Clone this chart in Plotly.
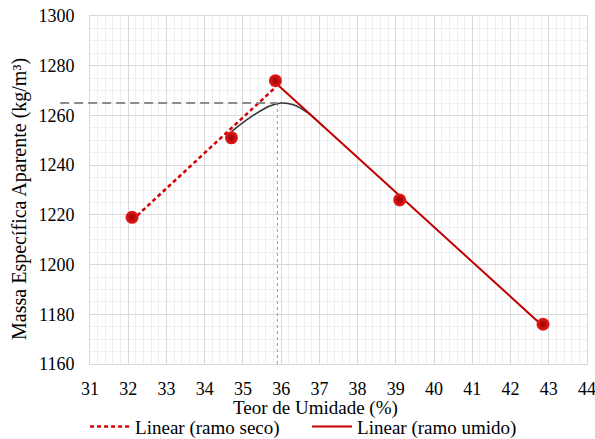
import numpy as np
import plotly.graph_objects as go

# Data
umidade = [32.1, 34.7, 35.85, 39.1, 42.85]
massa = [1219, 1251, 1274, 1226, 1176]
seco_idx = [0, 1, 2]
umido_idx = [2, 3, 4]

curva_x = [34.7, 35.2, 35.7, 36.0, 36.3, 36.7, 37.1]
curva_y = [1253.5, 1259.3, 1263.8, 1265.0, 1264.4, 1261.0, 1255.5]

w_otima = 35.9
gamma_max = 1265

x_range = [31, 44]
y_range = [1160, 1300]
x_ticks = list(range(31, 45))
y_ticks = list(range(1160, 1301, 20))

x_title = "Teor de Umidade (%)"
y_title = "Massa Específica Aparente (kg/m³)"

FONT = "Times New Roman, Liberation Serif, serif"

xs = np.array([umidade[i] for i in seco_idx])
ys = np.array([massa[i] for i in seco_idx])
p_seco = np.polyfit(xs, ys, 1)
xu = np.array([umidade[i] for i in umido_idx])
yu = np.array([massa[i] for i in umido_idx])
p_umido = np.polyfit(xu, yu, 1)

fig = go.Figure()

# vertical thin dotted line at optimum moisture
fig.add_trace(go.Scatter(x=[w_otima, w_otima], y=[y_range[0], gamma_max], mode="lines",
                         line=dict(color="#9a9a9a", width=1, dash="dot"),
                         showlegend=False, hoverinfo="skip"))

# compaction curve (black)
fig.add_trace(go.Scatter(x=curva_x, y=curva_y, mode="lines", line_shape="spline",
                         line=dict(color="#333333", width=1.5),
                         showlegend=False, hoverinfo="skip"))

# trend lines
sx = [xs.min(), xs.max()]
fig.add_trace(go.Scatter(x=sx, y=list(np.polyval(p_seco, sx)), mode="lines",
                         line=dict(color="#d40000", width=2.5, dash="4px,3px"),
                         name="Linear (ramo seco)"))
ux = [xu.min(), xu.max()]
fig.add_trace(go.Scatter(x=ux, y=list(np.polyval(p_umido, ux)), mode="lines",
                         line=dict(color="#c00000", width=2),
                         name="Linear (ramo umido)"))

# data points
fig.add_trace(go.Scatter(x=umidade, y=massa, mode="markers",
                         marker=dict(size=13, color="#e81c1c",
                                     gradient=dict(type="radial", color="#9a0000"),
                                     line=dict(width=0)),
                         showlegend=False, cliponaxis=False))

# horizontal gray dashed line (extends left past the axis)
fig.add_shape(type="line", xref="paper", yref="paper",
              x0=-0.06, x1=(w_otima - x_range[0]) / (x_range[1] - x_range[0]),
              y0=(gamma_max - y_range[0]) / (y_range[1] - y_range[0]),
              y1=(gamma_max - y_range[0]) / (y_range[1] - y_range[0]),
              line=dict(color="#8c8c8c", width=2, dash="9px,5px"), layer="above")

axis_common = dict(showline=True, linecolor="#d9d9d9", linewidth=1, mirror=True,
                   gridcolor="#d9d9d9", gridwidth=1, zeroline=False, automargin=False,
                   ticks="", ticklabeloverflow="allow",
                   tickfont=dict(family=FONT, size=18, color="#000000"))

fig.update_xaxes(range=x_range, tickvals=x_ticks, ticklabelstandoff=8,
                 minor=dict(dtick=0.2, showgrid=True, gridcolor="#efefef", gridwidth=1),
                 **axis_common)
fig.update_yaxes(range=y_range, tickvals=y_ticks, ticklabelstandoff=11,
                 minor=dict(dtick=5, showgrid=True, gridcolor="#efefef", gridwidth=1),
                 **axis_common)

fig.add_annotation(text=x_title, xref="paper", yref="paper", x=0.453, y=-0.1256,
                   xanchor="center", yanchor="middle", showarrow=False,
                   font=dict(family=FONT, size=19, color="#000"))
fig.add_annotation(text=y_title, xref="paper", yref="paper", x=-0.142, y=0.4756,
                   xanchor="center", yanchor="middle", showarrow=False, textangle=-90,
                   font=dict(family=FONT, size=20, color="#000"))

fig.update_layout(
    width=595, height=439,
    margin=dict(l=90, r=8, t=16, b=75, autoexpand=False),
    paper_bgcolor="white", plot_bgcolor="white",
    showlegend=True,
    legend=dict(orientation="h", x=0.143, xanchor="left", xref="container",
                y=0.028, yanchor="middle", yref="container",
                font=dict(family=FONT, size=19, color="#000"),
                itemwidth=40, entrywidth=167, tracegroupgap=0, bgcolor="rgba(0,0,0,0)"),
)

fig.write_html("out.html")
